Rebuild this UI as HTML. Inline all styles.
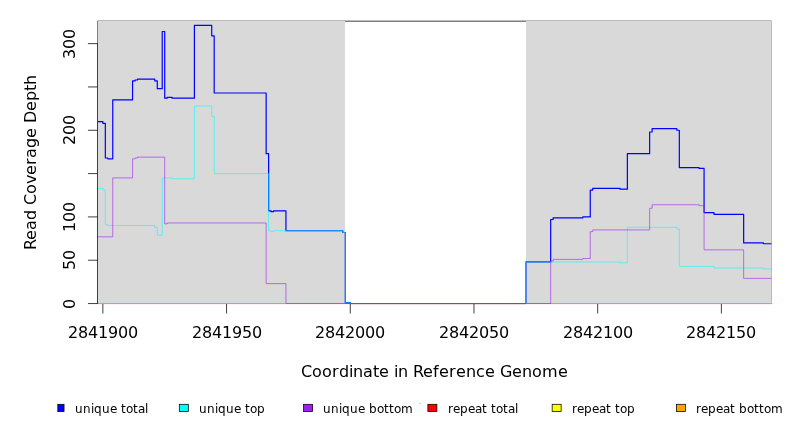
<!DOCTYPE html>
<html><head><meta charset="utf-8"><title>Read Coverage Depth</title>
<style>
html,body{margin:0;padding:0;background:#fff;}
svg{display:block;}
text{font-family:"DejaVu Sans","Liberation Sans",sans-serif;fill:#000;}
.ax{font-size:16px;}
.lg{font-size:12px;}
.ti{font-size:16.1px;}
</style></head><body>
<svg width="792" height="432" viewBox="0 0 792 432">
<rect x="0" y="0" width="792" height="432" fill="#fff"/>

<g shape-rendering="crispEdges">
<rect x="97" y="21" width="675" height="1" fill="#808080"/>
<rect x="97" y="21" width="1" height="283" fill="#808080"/>
<rect x="98" y="21" width="247" height="283" fill="#d9d9d9"/>
<rect x="526" y="21" width="245" height="283" fill="#d9d9d9"/>
<rect x="98" y="20" width="673" height="1" fill="#bbbbbb"/>
<rect x="771" y="20" width="1" height="1" fill="#dddddd"/>
<rect x="97" y="20" width="1" height="1" fill="#d0d0d0"/>
<rect x="771" y="21" width="1" height="283" fill="#bbbbbb"/>
</g>
<path d="M97.45 303.55H771.50" stroke="#ff0000" stroke-width="0.75" fill="none"/>
<path d="M97.45 303.55H771.50" stroke="#ffff00" stroke-width="0.75" fill="none"/>
<path d="M97.45 303.55H771.50" stroke="#ffa500" stroke-width="0.75" fill="none"/>
<clipPath id="p"><rect x="97.45" y="20" width="674.05" height="284.3"/></clipPath>
<g fill="none" stroke-linejoin="round" stroke-linecap="round" clip-path="url(#p)">
<path d="M97.45 121.61H102.86V123.34H105.33V157.99H107.81V158.86H112.76V99.95H132.55V80.89H135.02V80.02H137.50V79.15H154.82V80.89H157.29V88.68H162.24V31.50H164.71V98.21H167.19V97.35H172.13V98.21H194.40V25.44H211.72V35.83H214.19V93.01H266.15V153.66H268.62V210.85H271.10V211.71H273.57V210.85H285.94V230.77H342.85V232.51H345.32V302.68H350.27V303.55H525.93V261.96H550.67V219.51H553.15V217.78H582.84V216.91H590.26V190.05H592.73V188.32H619.95V189.19H627.37V153.66H649.64V132.00H652.11V128.54H676.85V130.27H679.33V167.53H699.12V168.39H704.07V212.58H713.96V214.31H743.65V242.90H763.44V243.77H771.50" stroke="#0000ff" stroke-width="1.2"/>
<path d="M97.45 188.32H102.86V190.05H105.33V224.71H107.81V225.57H154.82V227.31H157.29V235.10H162.24V177.92H172.13V178.79H194.40V106.01H211.72V116.41H214.19V173.59H268.62V230.77H271.10V231.64H273.57V230.77H342.85V232.51H345.32V302.68H350.27V303.55H525.93V261.96H619.95V262.83H627.37V227.31H676.85V229.04H679.33V266.29H713.96V268.03H763.44V268.89H771.50" stroke="#00ffff" stroke-width="0.6"/>
<path d="M97.45 236.84H112.76V177.92H132.55V158.86H135.02V157.99H137.50V157.13H164.71V223.84H167.19V222.97H266.15V283.62H285.94V303.55H550.67V261.10H553.15V259.36H582.84V258.50H590.26V231.64H592.73V229.91H649.64V208.25H652.11V204.78H699.12V205.65H704.07V249.83H743.65V278.42H771.50" stroke="#a020f0" stroke-width="0.6"/>
</g>
<g shape-rendering="crispEdges">
<rect x="98" y="303" width="188" height="1" fill="#ff9a08"/>
<rect x="286" y="303" width="59" height="1" fill="#cc5580"/>
<rect x="345" y="303" width="5" height="1" fill="#b030a8"/>
<rect x="350" y="303" width="176" height="1" fill="#5550f5"/>
<rect x="526" y="303" width="25" height="1" fill="#cc5580"/>
<rect x="551" y="303" width="221" height="1" fill="#ff9a08"/>
<rect x="350" y="304" width="176" height="1" fill="#eed7e8"/>
<rect x="98" y="304" width="252" height="1" fill="#fff1f4"/>
<rect x="526" y="304" width="246" height="1" fill="#fff1f4"/>
<rect x="419" y="403" width="2" height="1" fill="#d2d2d2"/>
</g>
<g stroke="#000" stroke-width="0.75" fill="none">
<rect x="97" y="43" width="1" height="261" fill="#404040" stroke="none" shape-rendering="crispEdges"/>
<path d="M97.45 303.55H87.95"/>
<path d="M97.45 260.23H87.95"/>
<path d="M97.45 216.91H87.95"/>
<path d="M97.45 173.59H87.95"/>
<path d="M97.45 130.27H87.95"/>
<path d="M97.45 86.95H87.95"/>
<path d="M97.45 43.63H87.95"/>
<path d="M102.86 304.00V313.50"/>
<path d="M226.56 304.00V313.50"/>
<path d="M350.27 304.00V313.50"/>
<path d="M473.98 304.00V313.50"/>
<path d="M597.68 304.00V313.50"/>
<path d="M721.38 304.00V313.50"/>
</g>
<text class="ax" x="68.00 78.00 88.00 98.00 108.00 118.00 128.00" y="337.80">2841900</text>
<text class="ax" x="192.00 202.00 212.00 222.00 232.00 242.00 252.00" y="337.80">2841950</text>
<text class="ax" x="315.00 325.00 335.00 345.00 355.00 365.00 375.00" y="337.80">2842000</text>
<text class="ax" x="439.00 449.00 459.00 469.00 479.00 489.00 499.00" y="337.80">2842050</text>
<text class="ax" x="563.00 573.00 583.00 593.00 603.00 613.00 623.00" y="337.80">2842100</text>
<text class="ax" x="686.00 696.00 706.00 716.00 726.00 736.00 746.00" y="337.80">2842150</text>
<text class="ax" transform="translate(74.90 303.55) rotate(-90)" x="-5.45" y="0">0</text>
<text class="ax" transform="translate(74.90 260.23) rotate(-90)" x="-9.77 0.23" y="0">50</text>
<text class="ax" transform="translate(74.90 216.91) rotate(-90)" x="-15.09 -5.09 4.91" y="0">100</text>
<text class="ax" transform="translate(74.90 130.27) rotate(-90)" x="-14.73 -4.73 5.27" y="0">200</text>
<text class="ax" transform="translate(74.90 43.63) rotate(-90)" x="-15.37 -5.37 4.63" y="0">300</text>
<text class="ax" x="301.00 312.00 322.00 332.00 339.00 349.00 353.00 363.00 373.00 379.00 389.00 394.00 398.00 408.00 413.00 423.00 433.00 439.00 449.00 456.00 466.00 476.00 485.00 495.00 500.00 512.00 522.00 532.00 542.00 558.00" y="376.80">Coordinate in Reference Genome</text>
<text class="ax" transform="translate(35.90 162.30) rotate(-90)" x="-87.70 -77.70 -67.70 -57.70 -47.70 -42.70 -31.70 -21.70 -12.70 -2.70 4.30 14.30 24.30 34.30 39.30 51.30 61.30 71.30 77.30" y="0">Read Coverage Depth</text>
<clipPath id="c"><rect x="57.3" y="390" width="735" height="42"/></clipPath>
<g clip-path="url(#c)">
<rect x="55.05" y="404.3" width="9.0" height="7.25" fill="#0000ff" stroke="#000" stroke-width="0.75"/>
<text class="lg" x="75.00 83.00 91.00 94.00 102.00 110.00 117.00 121.00 126.00 133.00 138.00 145.00" y="412.80">unique total</text>
<rect x="179.32" y="404.3" width="9.0" height="7.25" fill="#00ffff" stroke="#000" stroke-width="0.75"/>
<text class="lg" x="199.00 207.00 215.00 218.00 226.00 234.00 241.00 245.00 250.00 257.00" y="412.80">unique top</text>
<rect x="303.61" y="404.3" width="9.0" height="7.25" fill="#a020f0" stroke="#000" stroke-width="0.75"/>
<text class="lg" x="323.00 331.00 339.00 342.00 350.00 358.00 365.00 369.00 377.00 384.00 389.00 394.00 401.00" y="412.80">unique bottom</text>
<rect x="427.89" y="404.3" width="9.0" height="7.25" fill="#ff0000" stroke="#000" stroke-width="0.75"/>
<text class="lg" x="448.00 453.00 460.00 468.00 475.00 482.00 487.00 491.00 496.00 503.00 508.00 515.00" y="412.80">repeat total</text>
<rect x="552.16" y="404.3" width="9.0" height="7.25" fill="#ffff00" stroke="#000" stroke-width="0.75"/>
<text class="lg" x="572.00 577.00 584.00 592.00 599.00 606.00 611.00 615.00 620.00 627.00" y="412.80">repeat top</text>
<rect x="676.44" y="404.3" width="9.0" height="7.25" fill="#ffa500" stroke="#000" stroke-width="0.75"/>
<text class="lg" x="696.00 701.00 708.00 716.00 723.00 730.00 735.00 739.00 747.00 754.00 759.00 764.00 771.00" y="412.80">repeat bottom</text>
</g>
</svg></body></html>
